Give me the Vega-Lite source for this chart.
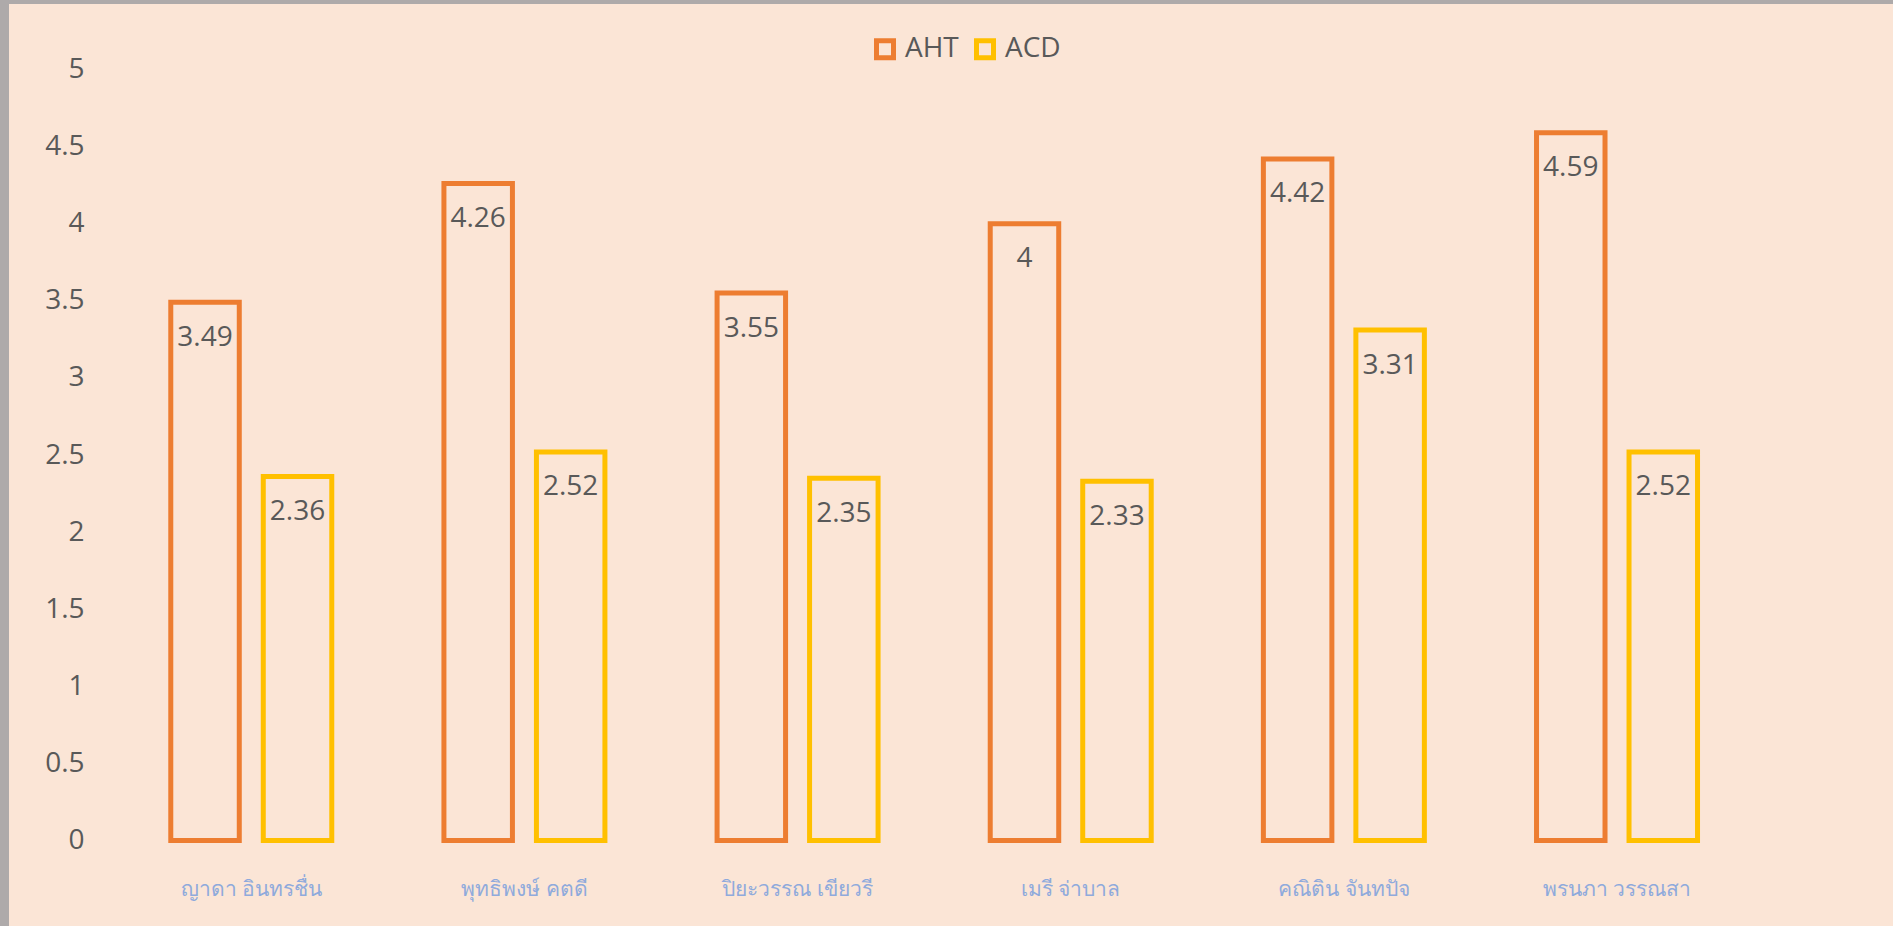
{
  "$schema": "https://vega.github.io/schema/vega-lite/v6.json",
  "width": 1884,
  "height": 922,
  "autosize": {"type": "none"},
  "padding": {"left": 9, "top": 4, "right": 0, "bottom": 0},
  "background": "#AEAAAA",
  "config": {
    "view": {"fill": "#FBE5D6", "stroke": null},
    "font": "Open Sans"
  },
  "data": {
    "values": [
      {"name": "ญาดา อินทรชื่น", "metric": "AHT", "value": 3.49},
      {"name": "ญาดา อินทรชื่น", "metric": "ACD", "value": 2.36},
      {"name": "พุทธิพงษ์ คตดี", "metric": "AHT", "value": 4.26},
      {"name": "พุทธิพงษ์ คตดี", "metric": "ACD", "value": 2.52},
      {"name": "ปิยะวรรณ เขียวรี", "metric": "AHT", "value": 3.55},
      {"name": "ปิยะวรรณ เขียวรี", "metric": "ACD", "value": 2.35},
      {"name": "เมรี จ่าบาล", "metric": "AHT", "value": 4},
      {"name": "เมรี จ่าบาล", "metric": "ACD", "value": 2.33},
      {"name": "คณิติน จันทปัจ", "metric": "AHT", "value": 4.42},
      {"name": "คณิติน จันทปัจ", "metric": "ACD", "value": 3.31},
      {"name": "พรนภา วรรณสา", "metric": "AHT", "value": 4.59},
      {"name": "พรนภา วรรณสา", "metric": "ACD", "value": 2.52}
    ]
  },
  "encoding": {
    "x": {
      "field": "name", "type": "nominal", "sort": null,
      "scale": {"range": [105.7, 1744.6], "paddingInner": 0.4106, "paddingOuter": 0.2053},
      "axis": {
        "title": null, "orient": "bottom", "offset": -85.5, "domain": false, "ticks": false, "tickSize": 0,
        "labelPadding": 55, "labelBaseline": "alphabetic", "labelAngle": 0,
        "labelFont": "Noto Sans", "labelFontSize": 21, "labelColor": "#8FAADC", "labelFontWeight": "normal"
      }
    },
    "xOffset": {
      "field": "metric", "type": "nominal", "sort": ["AHT", "ACD"],
      "scale": {"paddingInner": 0.2595, "paddingOuter": 0}
    },
    "y": {
      "field": "value", "type": "quantitative",
      "scale": {"domain": [-0.5545, 5.4248], "nice": false, "zero": false},
      "axis": {
        "title": null, "values": [0, 0.5, 1, 1.5, 2, 2.5, 3, 3.5, 4, 4.5, 5], "format": "~g",
        "offset": -75, "domain": false, "ticks": false, "tickSize": 0, "grid": false,
        "labelPadding": 0, "labelFont": "Open Sans", "labelFontSize": 28, "labelColor": "#595959", "labelAlign": "right", "labelBaseline": "middle"
      }
    },
    "color": {
      "field": "metric", "type": "nominal", "sort": ["AHT", "ACD"],
      "scale": {"domain": ["AHT", "ACD"], "range": ["#ED7D31", "#FFC000"]},
      "legend": {
        "title": null, "orient": "none", "legendX": 862, "legendY": 31, "direction": "horizontal",
        "symbolType": "square", "symbolSize": 289, "symbolStrokeWidth": 5,
        "labelFont": "Open Sans", "labelFontSize": 28, "labelColor": "#595959",
        "labelOffset": 6, "columnPadding": 7, "padding": 0
      }
    }
  },
  "layer": [
    {
      "mark": {"type": "bar", "filled": false, "strokeWidth": 5},
      "encoding": {"y2": {"datum": 0}}
    },
    {
      "mark": {"type": "text", "dy": 43.5, "baseline": "alphabetic", "align": "center", "fontSize": 28, "font": "Open Sans", "color": "#595959"},
      "encoding": {"text": {"field": "value", "type": "quantitative"}, "color": {"value": "#595959"}}
    }
  ]
}
